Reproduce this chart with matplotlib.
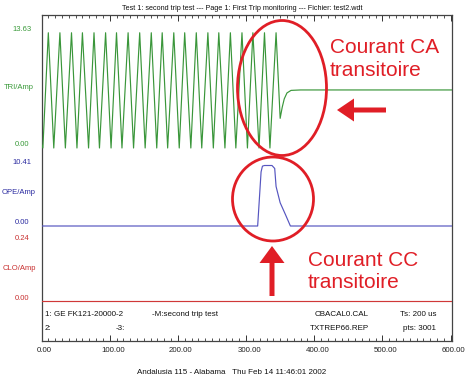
import matplotlib
matplotlib.use("Agg")
import matplotlib.pyplot as plt
from matplotlib.patches import Ellipse, FancyArrow
from matplotlib.transforms import blended_transform_factory, ScaledTranslation

plt.rcParams["font.family"] = ["Liberation Sans", "DejaVu Sans"]

# Données (temps en ms)
x_ticks = [0, 100, 200, 300, 400, 500, 600]

tri_t = [0, 2, 10, 18, 27, 35, 44, 52, 60, 69, 77, 85, 94, 102, 110, 118,
         127, 135, 144, 152, 161, 169, 177, 185, 194, 202, 210, 219, 227,
         235, 244, 252, 260, 269, 277, 285, 294, 302, 310, 319, 327, 335,
         344, 350, 353, 356, 360, 366, 380, 602]
tri_v = [0.4, 0.0, 13.6, 0.0, 13.6, 0.0, 13.6, 0.0, 13.6, 0.0, 13.6, 0.0,
         13.6, 0.0, 13.6, 0.0, 13.6, 0.0, 13.6, 0.0, 13.6, 0.0, 13.6, 0.0,
         13.6, 0.0, 13.6, 0.0, 13.6, 0.0, 13.6, 0.0, 13.6, 0.0, 13.6, 0.0,
         13.6, 0.0, 13.6, 0.0, 13.6, 0.0, 13.6, 3.5, 4.8, 5.8, 6.5, 6.8,
         6.85, 6.85]

ope_t = [0, 317, 322, 324, 327, 338, 342, 344, 350, 358, 365, 602]
ope_v = [0, 0, 9.3, 10.3, 10.41, 10.41, 9.9, 6.8, 4.0, 1.9, 0, 0]

clo_t = [0, 602]
clo_v = [0, 0]

channels = ["TRI/Amp", "OPE/Amp", "CLO/Amp"]
ch_max = [13.63, 10.41, 0.24]
ch_colors = ["#3a963a", "#5555c0", "#d03838"]
lab_colors = ["#3a9a3a", "#2a2aa0", "#c83030"]

W, H = 466, 384


def fx(px):
    return px / W


def fy(py):
    return 1 - py / H


def ylim_for(top, bot, zero_px, max_px, vmax):
    s = (zero_px - max_px) / vmax
    return -(bot - zero_px) / s, vmax + (max_px - top) / s


fig = plt.figure(figsize=(W / 100, H / 100), dpi=100)

L, R = 41.5, 452
box_top, box_bot = 15, 341

# Cadre avec graduations
frame = fig.add_axes([fx(L), fy(box_bot), fx(R) - fx(L), fy(box_top) - fy(box_bot)])
frame.set_xlim(0, 602)
frame.set_ylim(0, 1)
frame.set_yticks([])
frame.set_xticks(x_ticks)
frame.set_xticklabels([f"{v:.2f}" for v in x_ticks], fontsize=5.7, color="#222222")
frame.set_xticks(range(0, 602, 10), minor=True)
frame.tick_params(axis="x", which="both", direction="in", top=True, bottom=True,
                  color="#333333", pad=4.5)
frame.tick_params(axis="x", which="major", length=4, width=0.7)
frame.tick_params(axis="x", which="minor", length=2, width=0.6)
for s in frame.spines.values():
    s.set_color("#444444")
    s.set_linewidth(0.9)
off = ScaledTranslation(3 / 100, 0, fig.dpi_scale_trans)
for lab in frame.get_xticklabels():
    lab.set_transform(lab.get_transform() + off)

# Panneaux : (haut, bas, pixel du zéro, pixel du max)
panels = [(15, 152, 148, 32.5), (152, 232, 226, 165.5), (232, 306, 301, 242)]
series = [(tri_t, tri_v), (ope_t, ope_v), (clo_t, clo_v)]

for i, (top, bot, zp, mp) in enumerate(panels):
    ax = fig.add_axes([fx(L), fy(bot), fx(R) - fx(L), fy(top) - fy(bot)])
    ax.set_xlim(0, 602)
    ax.set_ylim(*ylim_for(top, bot, zp, mp, ch_max[i]))
    ax.axis("off")
    t, v = series[i]
    ax.plot(t, v, color=ch_colors[i], lw=0.85)
    tr = blended_transform_factory(fig.transFigure, ax.transData)
    up = ScaledTranslation(0, 3 / 100, fig.dpi_scale_trans)
    ax.text(fx(22), ch_max[i], f"{ch_max[i]:.2f}", transform=tr + up, ha="center",
            va="center", fontsize=5.5, color=lab_colors[i])
    ax.text(fx(22), 0, "0.00", transform=tr + up, ha="center", va="center",
            fontsize=5.5, color=lab_colors[i])
    ax.text(fx(19), ch_max[i] / 2, channels[i], transform=tr + up, ha="center",
            va="center", fontsize=5.5, color=lab_colors[i])

# Titre et textes
fig.text(fx(242), fy(9), "Test 1: second trip test --- Page 1: First Trip monitoring --- Fichier: test2.wdt",
         ha="center", va="center", fontsize=5.2, color="#111111")
foot = dict(va="center", fontsize=5.8, color="#111111")
fig.text(fx(45), fy(314), "1: GE FK121-20000-2", ha="left", **foot)
fig.text(fx(152), fy(314), "-M:second trip test", ha="left", **foot)
fig.text(fx(369), fy(314), "CBACAL0.CAL", ha="right", **foot)
fig.text(fx(436), fy(314), "Ts: 200 us", ha="right", **foot)
fig.text(fx(45), fy(328), "2:", ha="left", **foot)
fig.text(fx(116), fy(328), "-3:", ha="left", **foot)
fig.text(fx(369), fy(328), "TXTREP66.REP", ha="right", **foot)
fig.text(fx(436), fy(328), "pts: 3001", ha="right", **foot)
fig.text(fx(232), fy(373), "Andalusia 115 - Alabama   Thu Feb 14 11:46:01 2002",
         ha="center", va="center", fontsize=5.8, color="#111111")

# Annotations en rouge
red = "#e01e26"
fig.add_artist(Ellipse((fx(282), fy(88)), fx(89), 135 / H, fill=False,
                       edgecolor=red, lw=2.0))
fig.add_artist(Ellipse((fx(273), fy(199)), fx(81), 84 / H, fill=False,
                       edgecolor=red, lw=2.0))
fig.text(fx(330), fy(59), "Courant CA\ntransitoire", ha="left", va="center",
         fontsize=15, color=red, linespacing=1.25)
fig.text(fx(308), fy(271), "Courant CC\ntransitoire", ha="left", va="center",
         fontsize=15, color=red, linespacing=1.2)
fig.add_artist(FancyArrow(fx(386), fy(110), fx(337) - fx(386), 0, width=5 / H,
                          head_width=23 / H, head_length=fx(17),
                          length_includes_head=True, color=red, lw=0))
fig.add_artist(FancyArrow(fx(272), fy(296), 0, fy(246) - fy(296), width=fx(5),
                          head_width=fx(25), head_length=17 / H,
                          length_includes_head=True, color=red, lw=0))

fig.savefig("out.png", dpi=100)
